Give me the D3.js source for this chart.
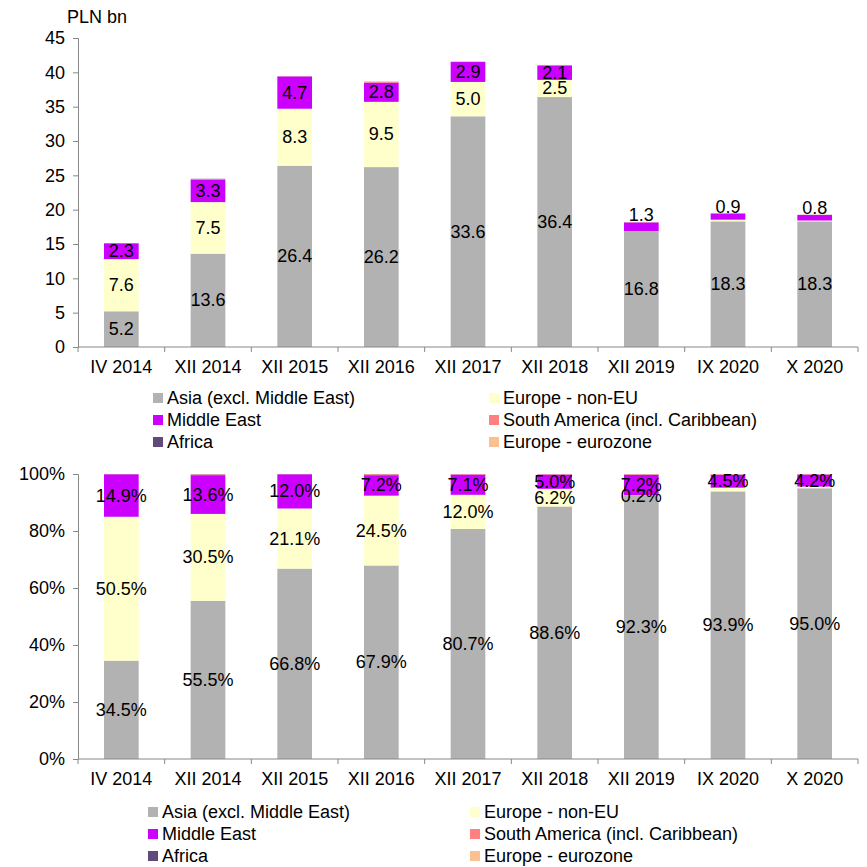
<!DOCTYPE html>
<html>
<head>
<meta charset="utf-8">
<script src="https://cdn.jsdelivr.net/npm/d3@7"></script>
<style>
  body { margin: 0; background: #fff; }
  svg text { font-family: "Liberation Sans", Arial, sans-serif; fill: #000; }
</style>
</head>
<body>
<svg id="chart" width="867" height="867"></svg>
<script>
// ---------- DATA ----------
const categories = ["IV 2014", "XII 2014", "XII 2015", "XII 2016", "XII 2017", "XII 2018", "XII 2019", "IX 2020", "X 2020"];
const seriesNames = ["Asia (excl. Middle East)", "Europe - non-EU", "Middle East", "South America (incl. Caribbean)", "Africa", "Europe - eurozone"];
const seriesColors = ["#B2B2B2", "#FFFFCC", "#CC00FF", "#FF8080", "#604A7B", "#FAC090"];

// PLN bn
const asia        = [5.2, 13.6, 26.4, 26.2, 33.6, 36.4, 16.8, 18.3, 18.3];
const europeNonEU = [7.6, 7.5, 8.3, 9.5, 5.0, 2.5, 0.04, 0.24, 0.12];
const middleEast  = [2.3, 3.3, 4.7, 2.8, 2.9, 2.1, 1.3, 0.9, 0.8];
const southAmerica= [0.02, 0.06, 0.03, 0.12, 0.06, 0.06, 0.03, 0.03, 0.03];
const africa      = [0.01, 0.03, 0.01, 0.02, 0.01, 0.01, 0.01, 0.01, 0.01];
const eurozone    = [0.0, 0.02, 0.01, 0.01, 0.01, 0.01, 0.01, 0.01, 0.01];
const europeNonEULabelShown = [true, true, true, true, true, true, false, false, false];

// shares, %
const asiaPct        = [34.5, 55.5, 66.8, 67.9, 80.7, 88.6, 92.3, 93.9, 95.0];
const europeNonEUPct = [50.5, 30.5, 21.1, 24.5, 12.0, 6.2, 0.2, 1.3, 0.6];
const middleEastPct  = [14.9, 13.6, 12.0, 7.2, 7.1, 5.0, 7.2, 4.5, 4.2];
const southAmericaPct= [0.06, 0.25, 0.06, 0.3, 0.15, 0.15, 0.2, 0.2, 0.12];
const africaPct      = [0.03, 0.1, 0.03, 0.07, 0.03, 0.03, 0.05, 0.05, 0.04];
const eurozonePct    = [0.01, 0.05, 0.01, 0.03, 0.02, 0.02, 0.05, 0.05, 0.04];
const europeNonEUPctLabelShown = [true, true, true, true, true, true, true, false, false];

const topTicks = [0, 5, 10, 15, 20, 25, 30, 35, 40, 45];
const bottomTicks = [0, 20, 40, 60, 80, 100];
const topUnit = "PLN bn";

// ---------- DRAW ----------
const svg = d3.select("#chart");
const axisColor = "#888";
const fontSize = 18;

function buildRows(arrs) {
  return categories.map((c, i) => {
    const r = { cat: c };
    seriesNames.forEach((s, k) => r[s] = arrs[k][i]);
    return r;
  });
}

function drawPanel(opts) {
  const { rows, yDomain, yRange, ticks, tickFmt, labelFmt, labelShow, aboveThreshold } = opts;
  const x = d3.scaleBand().domain(categories).range([78, 858]).paddingInner(0).paddingOuter(0);
  const y = d3.scaleLinear().domain(yDomain).range(yRange);
  const barW = x.bandwidth() * 0.4;
  const g = svg.append("g");

  const stack = d3.stack().keys(seriesNames)(rows);
  stack.forEach((layer, k) => {
    g.append("g").selectAll("rect").data(layer).join("rect")
      .attr("x", d => x(d.data.cat) + (x.bandwidth() - barW) / 2)
      .attr("width", barW)
      .attr("y", d => y(d[1]))
      .attr("height", d => Math.max(0, y(d[0]) - y(d[1])))
      .attr("fill", seriesColors[k]);
  });

  // axes
  const yAxis = d3.axisLeft(y).tickValues(ticks).tickFormat(tickFmt).tickSize(5).tickPadding(8);
  const ya = g.append("g").attr("transform", "translate(78,0)").call(yAxis);
  const xAxis = d3.axisBottom(x).tickSize(0).tickPadding(13);
  const xa = g.append("g").attr("transform", `translate(0,${yRange[0]})`).call(xAxis);
  [ya, xa].forEach(a => {
    a.selectAll("path, line").attr("stroke", axisColor);
    a.selectAll("text").style("font-size", fontSize + "px").attr("fill", "#000");
  });
  xa.select(".domain").attr("d", `M78,0H858`);
  // category boundary ticks
  g.append("g").selectAll("line").data(d3.range(categories.length + 1)).join("line")
    .attr("x1", i => 78 + i * x.bandwidth()).attr("x2", i => 78 + i * x.bandwidth())
    .attr("y1", yRange[0]).attr("y2", yRange[0] + 5)
    .attr("stroke", axisColor);

  // labels (first three series)
  stack.slice(0, 3).forEach((layer, k) => {
    layer.forEach((d, i) => {
      if (!labelShow[k][i]) return;
      const v = d.data[seriesNames[k]];
      const cx = x(d.data.cat) + x.bandwidth() / 2;
      let cy = (y(d[0]) + y(d[1])) / 2;
      if (aboveThreshold && v < aboveThreshold) cy = y(d[1]) - 7;
      g.append("text").attr("x", cx).attr("y", cy)
        .attr("text-anchor", "middle").attr("dominant-baseline", "central")
        .style("font-size", fontSize + "px").text(labelFmt(v));
    });
  });
}

function drawLegend(top, cols) {
  const rowH = 22;
  seriesNames.forEach((s, k) => {
    const cx = cols[k % 2];
    const cy = top + Math.floor(k / 2) * rowH;
    svg.append("rect").attr("x", cx).attr("y", cy - 5).attr("width", 10).attr("height", 10).attr("fill", seriesColors[k]);
    svg.append("text").attr("x", cx + 14).attr("y", cy).attr("dominant-baseline", "central")
      .style("font-size", "18px").text(s);
  });
}

const all = categories.map(() => true);

drawPanel({
  rows: buildRows([asia, europeNonEU, middleEast, southAmerica, africa, eurozone]),
  yDomain: [0, 45], yRange: [347, 38], ticks: topTicks,
  tickFmt: d3.format("d"), labelFmt: d3.format(".1f"),
  labelShow: [all, europeNonEULabelShown, all], aboveThreshold: 1.5
});
svg.append("text").attr("x", 67).attr("y", 17).attr("dominant-baseline", "central")
  .style("font-size", fontSize + "px").text(topUnit);
drawLegend(398, [153, 489]);

drawPanel({
  rows: buildRows([asiaPct, europeNonEUPct, middleEastPct, southAmericaPct, africaPct, eurozonePct]),
  yDomain: [0, 100], yRange: [759, 474], ticks: bottomTicks,
  tickFmt: d => d + "%", labelFmt: v => d3.format(".1f")(v) + "%",
  labelShow: [all, europeNonEUPctLabelShown, all], aboveThreshold: 0
});
drawLegend(812, [148, 470]);
</script>
</body>
</html>
